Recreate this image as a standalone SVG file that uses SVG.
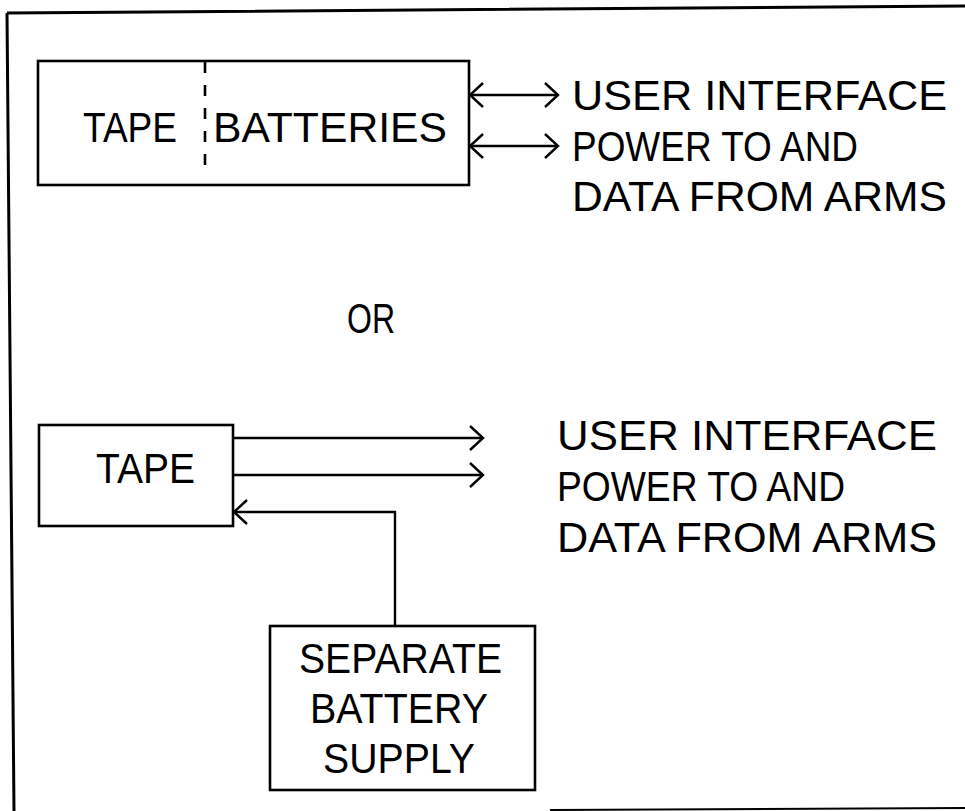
<svg xmlns="http://www.w3.org/2000/svg" width="965" height="811" viewBox="0 0 965 811">
<defs>
<style>
.box{fill:none;stroke:#000;stroke-width:2.6}
.ln{fill:none;stroke:#000;stroke-width:2.4}
.frame{fill:none;stroke:#000;stroke-width:3}
text{font-family:"Liberation Sans",Arial,sans-serif;font-size:42px;fill:#000}
.lbl{font-size:43px}
</style>
<marker id="ah" markerUnits="userSpaceOnUse" viewBox="-16 -15 18 30" refX="0" refY="0" markerWidth="18" markerHeight="30" orient="auto-start-reverse">
<path d="M-13,-12 L0,0 L-13,12" fill="none" stroke="#000" stroke-width="2.4"/>
</marker>
</defs>
<rect width="965" height="811" fill="#fff"/>
<g id="frame">
<path class="frame" d="M7,13 L965,6 M7,13 L14,811"/>
<path d="M550,810 L965,808" fill="none" stroke="#000" stroke-width="2"/>
</g>
<g id="tape-batteries">
<rect class="box" x="38" y="61" width="431" height="124"/>
<path d="M205,62 L205,174" fill="none" stroke="#000" stroke-width="2.6" stroke-dasharray="11,12"/>
<text x="83" y="142" textLength="94" lengthAdjust="spacingAndGlyphs">TAPE</text>
<text x="213" y="142" textLength="234" lengthAdjust="spacingAndGlyphs">BATTERIES</text>
</g>
<g id="labels-top">
<text class="lbl" x="572" y="110" textLength="375" lengthAdjust="spacingAndGlyphs">USER INTERFACE</text>
<text class="lbl" x="572" y="161" textLength="286" lengthAdjust="spacingAndGlyphs">POWER TO AND</text>
<text class="lbl" x="572" y="211" textLength="375" lengthAdjust="spacingAndGlyphs">DATA FROM ARMS</text>
</g>
<g id="or">
<text x="347" y="333" textLength="48" lengthAdjust="spacingAndGlyphs">OR</text>
</g>
<g id="tape">
<rect class="box" x="39" y="425" width="194" height="101"/>
<text x="96" y="483" textLength="99" lengthAdjust="spacingAndGlyphs">TAPE</text>
</g>
<g id="labels-bottom">
<text class="lbl" x="557" y="450" textLength="380" lengthAdjust="spacingAndGlyphs">USER INTERFACE</text>
<text class="lbl" x="557" y="501" textLength="288" lengthAdjust="spacingAndGlyphs">POWER TO AND</text>
<text class="lbl" x="557" y="552" textLength="380" lengthAdjust="spacingAndGlyphs">DATA FROM ARMS</text>
</g>
<g id="battery-supply">
<rect class="box" x="270" y="626" width="265" height="164"/>
<text x="299" y="673" textLength="203" lengthAdjust="spacingAndGlyphs">SEPARATE</text>
<text x="310" y="723" textLength="178" lengthAdjust="spacingAndGlyphs">BATTERY</text>
<text x="323" y="773" textLength="152" lengthAdjust="spacingAndGlyphs">SUPPLY</text>
</g>
<g id="connectors">
<path class="ln" d="M470,95 L558,95" marker-start="url(#ah)" marker-end="url(#ah)"/>
<path class="ln" d="M470,146 L558,146" marker-start="url(#ah)" marker-end="url(#ah)"/>
<path class="ln" d="M233,438 L483,438" marker-end="url(#ah)"/>
<path class="ln" d="M233,475 L483,475" marker-end="url(#ah)"/>
<path class="ln" d="M395,626 L395,512 L234,512" marker-end="url(#ah)"/>
</g>
</svg>
